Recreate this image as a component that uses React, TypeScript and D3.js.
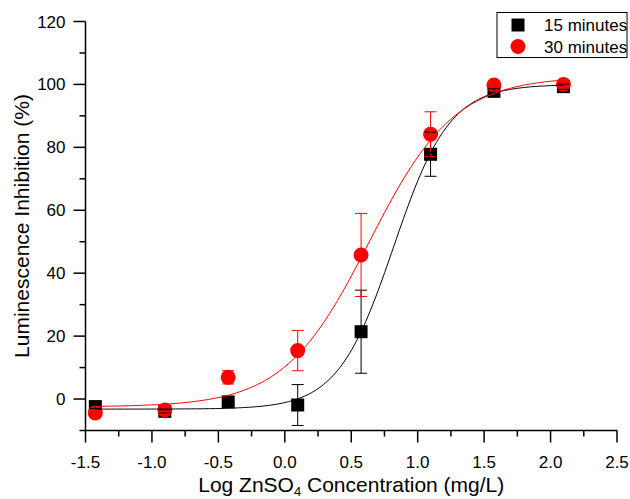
import React, { useEffect, useRef } from 'react';
import * as d3 from 'd3';

// log10 of ZnSO4 concentration (mg/L)
const logConc = [-1.426, -0.903, -0.426, 0.097, 0.574, 1.097, 1.574, 2.097];

const inhib15 = [-2.4, -3.9, -0.9, -1.9, 21.4, 77.8, 97.8, 99.3];
const err15 = [0.6, 0.5, 1.0, 6.5, 13.2, 7.0, 0.8, 0.8];

const inhib30 = [-4.4, -3.5, 6.9, 15.4, 45.8, 84.2, 99.8, 100.0];
const err30 = [0.5, 0.6, 2.1, 6.4, 13.2, 7.1, 0.6, 1.2];

// logistic fit parameters: bottom, top, logEC50, hill slope
const fit15 = { bottom: -3.2, top: 100.0, logEC50: 0.819, hill: 2.06 };
const fit30 = { bottom: -2.5, top: 102.5, logEC50: 0.636, hill: 1.352 };

const xTicks = [-1.5, -1.0, -0.5, 0.0, 0.5, 1.0, 1.5, 2.0, 2.5];
const yTicks = [0, 20, 40, 60, 80, 100, 120];

const seriesNames = ['15 minutes', '30 minutes'];

const FONT = '"Liberation Sans", Arial, sans-serif';

const App = () => {
    const ref = useRef(null);

    useEffect(() => {
        const width = 630, height = 499;
        const svg = d3.select(ref.current);
        svg.selectAll('*').remove();
        svg.attr('width', width).attr('height', height);

        const x = d3.scaleLinear().domain([-1.5, 2.5]).range([85.5, 617]);
        const y = d3.scaleLinear().domain([-10, 120]).range([430.5, 21.5]);

        // axes
        const xAxis = svg.append('g').attr('transform', `translate(0,${y(-10)})`);
        xAxis.append('line')
            .attr('x1', x(-1.5)).attr('x2', x(2.5))
            .attr('stroke', '#000').attr('stroke-width', 1.5);
        xAxis.selectAll('.minor')
            .data(d3.range(-1.25, 2.5, 0.5))
            .enter().append('line')
            .attr('x1', d => x(d)).attr('x2', d => x(d))
            .attr('y1', 0).attr('y2', 6)
            .attr('stroke', '#000').attr('stroke-width', 1.5);
        xAxis.selectAll('.major')
            .data(xTicks)
            .enter().append('line')
            .attr('x1', d => x(d)).attr('x2', d => x(d))
            .attr('y1', 0).attr('y2', 12)
            .attr('stroke', '#000').attr('stroke-width', 1.5);
        xAxis.selectAll('.lbl')
            .data(xTicks)
            .enter().append('text')
            .attr('x', d => x(d)).attr('y', 37)
            .attr('text-anchor', 'middle')
            .style('font-family', FONT).style('font-size', '17px')
            .text(d => d.toFixed(1));

        const yAxis = svg.append('g').attr('transform', `translate(${x(-1.5)},0)`);
        yAxis.append('line')
            .attr('y1', y(-10)).attr('y2', y(120))
            .attr('stroke', '#000').attr('stroke-width', 1.5);
        yAxis.selectAll('.minor')
            .data(d3.range(-10, 120, 20))
            .enter().append('line')
            .attr('y1', d => y(d)).attr('y2', d => y(d))
            .attr('x1', 0).attr('x2', -6)
            .attr('stroke', '#000').attr('stroke-width', 1.5);
        yAxis.selectAll('.major')
            .data(yTicks)
            .enter().append('line')
            .attr('y1', d => y(d)).attr('y2', d => y(d))
            .attr('x1', 0).attr('x2', -12)
            .attr('stroke', '#000').attr('stroke-width', 1.5);
        yAxis.selectAll('.lbl')
            .data(yTicks)
            .enter().append('text')
            .attr('x', -20).attr('y', d => y(d) + 6)
            .attr('text-anchor', 'end')
            .style('font-family', FONT).style('font-size', '17px')
            .text(d => d);

        // axis titles
        const xTitle = svg.append('text')
            .attr('x', x(0.5)).attr('y', 492)
            .attr('text-anchor', 'middle')
            .style('font-family', FONT).style('font-size', '21px');
        xTitle.append('tspan').text('Log ZnSO');
        xTitle.append('tspan').attr('dy', 4).style('font-size', '13px').text('4');
        xTitle.append('tspan').attr('dy', -4).text(' Concentration (mg/L)');

        svg.append('text')
            .attr('transform', `translate(29,${(y(-10) + y(120)) / 2}) rotate(-90)`)
            .attr('text-anchor', 'middle')
            .style('font-family', FONT).style('font-size', '21px')
            .text('Luminescence Inhibition (%)');

        const pts15 = logConc.map((c, i) => ({ c, v: inhib15[i], e: err15[i] }));
        const pts30 = logConc.map((c, i) => ({ c, v: inhib30[i], e: err30[i] }));

        // markers
        svg.append('g').selectAll('rect')
            .data(pts15)
            .enter().append('rect')
            .attr('x', d => x(d.c) - 6.5).attr('y', d => y(d.v) - 6.5)
            .attr('width', 13).attr('height', 13)
            .attr('fill', '#000');
        svg.append('g').selectAll('circle')
            .data(pts30)
            .enter().append('circle')
            .attr('cx', d => x(d.c)).attr('cy', d => y(d.v))
            .attr('r', 7.5)
            .attr('fill', '#ff0000');

        // error bars
        const drawErr = (pts, color) => {
            const g = svg.append('g').attr('stroke', color).attr('stroke-width', 1);
            pts.forEach(d => {
                g.append('line')
                    .attr('x1', x(d.c)).attr('x2', x(d.c))
                    .attr('y1', y(d.v - d.e)).attr('y2', y(d.v + d.e));
                [d.v - d.e, d.v + d.e].forEach(v => {
                    g.append('line')
                        .attr('x1', x(d.c) - 6).attr('x2', x(d.c) + 6)
                        .attr('y1', y(v)).attr('y2', y(v));
                });
            });
        };
        drawErr(pts15, '#000');
        drawErr(pts30, '#ff0000');

        // fitted curves
        const logistic = p => c => p.bottom + (p.top - p.bottom) / (1 + Math.pow(10, (p.logEC50 - c) * p.hill));
        const xs = d3.range(200).map(i => logConc[0] + (logConc[7] - logConc[0]) * i / 199);
        const line = d3.line().x(d => x(d[0])).y(d => y(d[1]));
        [[fit15, '#000'], [fit30, '#ff0000']].forEach(([p, color]) => {
            const f = logistic(p);
            svg.append('path')
                .datum(xs.map(c => [c, f(c)]))
                .attr('d', line)
                .attr('fill', 'none')
                .attr('stroke', color)
                .attr('stroke-width', 1);
        });

        // legend
        const lg = svg.append('g');
        lg.append('rect')
            .attr('x', 497).attr('y', 12.5)
            .attr('width', 130).attr('height', 45)
            .attr('fill', '#fff').attr('stroke', '#000').attr('stroke-width', 1);
        lg.append('rect')
            .attr('x', 518 - 6.5).attr('y', 25 - 6.5)
            .attr('width', 13).attr('height', 13).attr('fill', '#000');
        lg.append('circle')
            .attr('cx', 518).attr('cy', 46.5).attr('r', 7.5).attr('fill', '#ff0000');
        lg.selectAll('text')
            .data(seriesNames)
            .enter().append('text')
            .attr('x', 544).attr('y', (d, i) => 31 + i * 22)
            .style('font-family', FONT).style('font-size', '17px')
            .text(d => d);
    }, []);

    return <svg ref={ref} style={{ position: 'absolute', left: 0, top: 0 }} />;
};

export default App;
